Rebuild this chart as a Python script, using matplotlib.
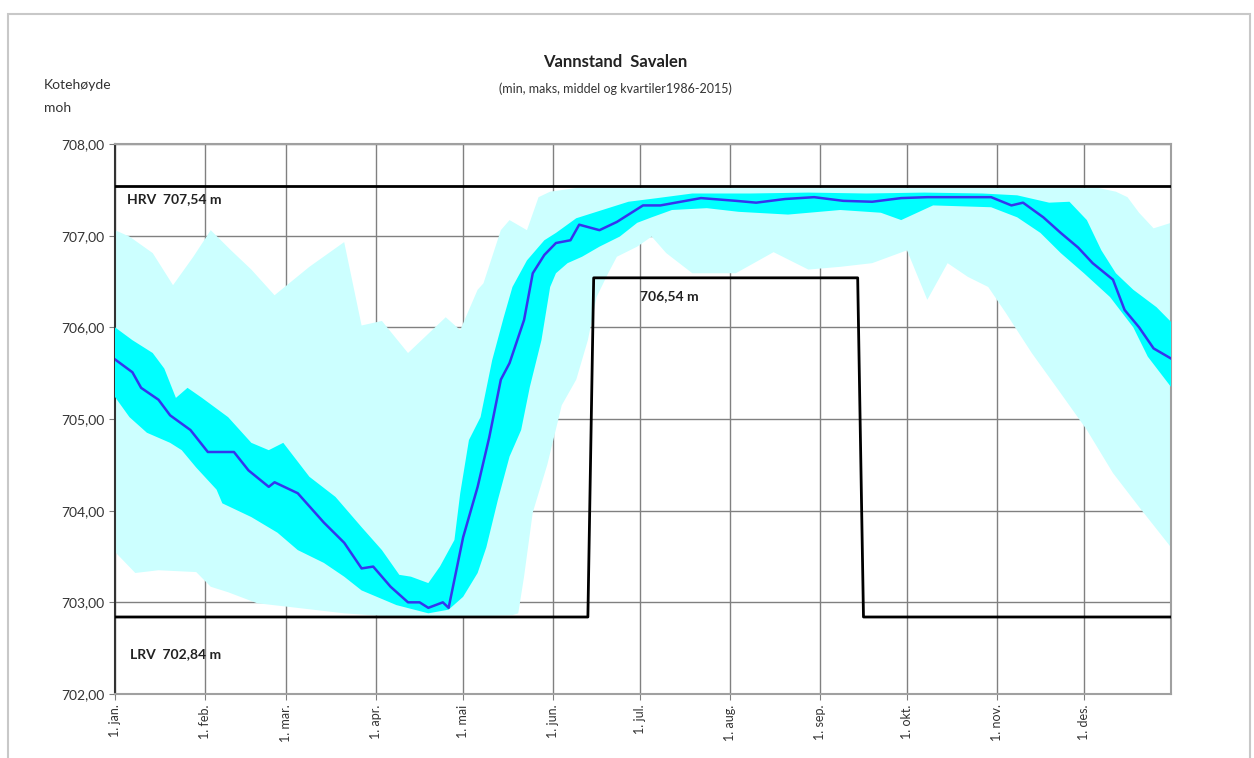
# Vannstand Savalen - min/max, quartiles and median water level per day of year

import numpy as np
import matplotlib
matplotlib.use('Agg')
import matplotlib.pyplot as plt
from matplotlib.patches import Rectangle

plt.rcParams['font.family'] = ['Lato', 'DejaVu Sans']

# Data (day of year, level in m a.s.l.)
max_days = [1, 6, 14, 21, 28, 34, 41, 48, 56, 68, 80, 86, 93, 102, 115, 120, 126, 128,
            134, 137, 143, 147, 151, 160, 200, 250, 300, 340, 346, 350, 354, 359, 365]
max_vals = [707.06, 706.99, 706.81, 706.46, 706.77, 707.06, 706.84, 706.63, 706.35, 706.66,
            706.93, 706.02, 706.07, 705.72, 706.11, 705.97, 706.41, 706.48,
            707.06, 707.17, 707.06, 707.42, 707.48, 707.52, 707.52, 707.52, 707.52, 707.52,
            707.48, 707.42, 707.25, 707.08, 707.14]

min_days = [1, 8, 16, 29, 34, 40, 50, 61, 80, 98, 120, 138, 140, 142, 145, 150, 155, 160,
            164, 167, 171, 174, 181, 186, 191, 200, 215, 228, 240, 251, 262, 274, 281, 288,
            295, 302, 308, 317, 327, 336, 345, 354, 365]
min_vals = [703.55, 703.32, 703.35, 703.33, 703.17, 703.11, 702.99, 702.95, 702.88, 702.84,
            702.84, 702.86, 702.88, 703.28, 703.98, 704.50, 705.15, 705.43,
            705.86, 706.33, 706.59, 706.77, 706.88, 706.99, 706.81, 706.59, 706.59, 706.82,
            706.63, 706.66, 706.70, 706.84, 706.30, 706.70,
            706.55, 706.44, 706.16, 705.72, 705.28, 704.88, 704.41, 704.04, 703.60]

q75_days = [1, 7, 14, 18, 22, 26, 31, 40, 48, 54, 59, 68, 77, 86, 93, 99, 103, 109, 113,
            118, 120, 123, 127, 131, 135, 138, 143, 149, 153, 160, 169, 178, 188, 200, 220,
            240, 260, 280, 300, 312, 323, 330, 336, 341, 346, 352, 360, 365]
q75_vals = [706.00, 705.86, 705.72, 705.55, 705.23, 705.34, 705.23, 705.02, 704.74, 704.66,
            704.74, 704.37, 704.15, 703.82, 703.57, 703.30, 703.28, 703.21, 703.39,
            703.68, 704.19, 704.77, 705.02, 705.64, 706.11, 706.44, 706.73, 706.95, 707.03,
            707.19, 707.28, 707.37, 707.41, 707.46, 707.46,
            707.47, 707.46, 707.47, 707.46, 707.44, 707.36, 707.37, 707.17, 706.84, 706.59,
            706.41, 706.22, 706.06]

q25_days = [1, 6, 12, 20, 24, 29, 36, 38, 48, 57, 64, 73, 80, 86, 98, 109, 116, 121, 126,
            129, 133, 137, 141, 144, 148, 151, 153, 157, 162, 168, 175, 181, 186, 193, 205,
            216, 233, 251, 265, 272, 283, 303, 312, 320, 327, 335, 344, 352, 357, 365]
q25_vals = [705.24, 705.02, 704.85, 704.74, 704.66, 704.47, 704.23, 704.08, 703.93, 703.76,
            703.57, 703.43, 703.28, 703.13, 702.97, 702.88, 702.92, 703.06, 703.32,
            703.60, 704.12, 704.59, 704.88, 705.35, 705.86, 706.44, 706.59, 706.70, 706.77,
            706.88, 706.99, 707.14, 707.20, 707.28, 707.30,
            707.26, 707.23, 707.28, 707.25, 707.17, 707.33, 707.31, 707.20, 707.03, 706.81,
            706.59, 706.33, 706.00, 705.68, 705.35]

med_days = [1, 7, 10, 16, 20, 27, 33, 42, 47, 54, 56, 64, 73, 80, 86, 90, 96, 102, 106,
            109, 114, 116, 121, 126, 130, 134, 137, 142, 145, 149, 153, 158, 161, 168, 174,
            183, 189, 203, 215, 222, 232, 242, 252, 262, 272, 281, 292, 303, 310, 314, 321,
            327, 333, 338, 345, 349, 354, 359, 365]
med_vals = [705.65, 705.51, 705.34, 705.21, 705.04, 704.88, 704.64, 704.64, 704.44, 704.26,
            704.31, 704.19, 703.87, 703.65, 703.37, 703.39, 703.17, 703.00, 703.00,
            702.94, 703.00, 702.94, 703.71, 704.26, 704.80, 705.43, 705.61, 706.08, 706.59,
            706.79, 706.92, 706.95, 707.12, 707.06, 707.15,
            707.33, 707.33, 707.41, 707.38, 707.36, 707.40, 707.42, 707.38, 707.37, 707.41,
            707.42, 707.42, 707.42, 707.33, 707.36, 707.20,
            707.03, 706.87, 706.70, 706.52, 706.19, 706.00, 705.77, 705.66]

# Regulation limits
hrv = 707.54
lrv = 702.84
reg_days = [1, 164, 166, 257, 259, 365]
reg_level = [702.84, 702.84, 706.54, 706.54, 702.84, 702.84]

month_days = [1, 32, 60, 91, 121, 152, 182, 213, 244, 274, 305, 335]
month_labels = ['1. jan.', '1. feb.', '1. mar.', '1. apr.', '1. mai', '1. jun.',
                '1. jul.', '1. aug.', '1. sep.', '1. okt.', '1. nov.', '1. des.']
y_ticks = [702, 703, 704, 705, 706, 707, 708]

fig = plt.figure(figsize=(12.54, 7.58), dpi=100)
ax = fig.add_axes([115 / 1254, 64 / 758, 1056 / 1254, 550 / 758])

# outer frame of the chart area
fig.patches.append(Rectangle((8 / 1254, -0.05), 1242 / 1254, 1.05 - 14 / 758,
                             transform=fig.transFigure, fill=False,
                             edgecolor='#c8c8c8', lw=1.5))

# min-max band and quartile band
ax.fill(np.concatenate([max_days, min_days[::-1]]),
        np.concatenate([max_vals, min_vals[::-1]]),
        color='#ccffff', lw=0, zorder=2)
ax.fill(np.concatenate([q75_days, q25_days[::-1]]),
        np.concatenate([q75_vals, q25_vals[::-1]]),
        color='#00ffff', lw=0, zorder=3)
ax.plot(med_days, med_vals, color='#3535ee', lw=1.8, zorder=4)

# regulation lines
ax.axhline(hrv, color='black', lw=2, zorder=5)
ax.plot(reg_days, reg_level, color='black', lw=2, zorder=5)

ax.text(5, 707.40, 'HRV  707,54 m', fontsize=10, fontweight='bold', color='#222222',
        va='center', ha='left', zorder=6)
ax.text(182, 706.34, '706,54 m', fontsize=10, fontweight='bold', color='#222222',
        va='center', ha='left', zorder=6)
ax.text(6, 702.44, 'LRV  702,84 m', fontsize=10, fontweight='bold', color='#222222',
        va='center', ha='left', zorder=6)

ax.set_xlim(1, 365)
ax.set_ylim(702, 708)
ax.set_xticks(month_days)
ax.set_xticklabels(month_labels, rotation=90, fontsize=9, color='#333333')
ax.set_yticks(y_ticks)
ax.set_yticklabels([f'{v},00' for v in y_ticks], fontsize=10, color='#333333')
ax.grid(True, color='#808080', lw=1, zorder=1)
ax.set_axisbelow(True)
ax.tick_params(length=4, color='#808080')

for side in ['top', 'right', 'bottom']:
    ax.spines[side].set_color('#a0a0a0')
    ax.spines[side].set_linewidth(1.5)
ax.spines['left'].set_color('#333333')
ax.spines['left'].set_linewidth(1.5)

fig.text(615 / 1254, 1 - 62 / 758, 'Vannstand  Savalen', fontsize=12, fontweight='bold',
         ha='center', va='center', color='#222222')
fig.text(615 / 1254, 1 - 89 / 758, '(min, maks, middel og kvartiler1986-2015)', fontsize=9,
         ha='center', va='center', color='#333333')
fig.text(44 / 1254, 1 - 85 / 758, 'Kotehøyde', fontsize=10, ha='left', va='center',
         color='#333333')
fig.text(44 / 1254, 1 - 108 / 758, 'moh', fontsize=10, ha='left', va='center',
         color='#333333')

fig.savefig('out.png', dpi=100)
plt.close(fig)
